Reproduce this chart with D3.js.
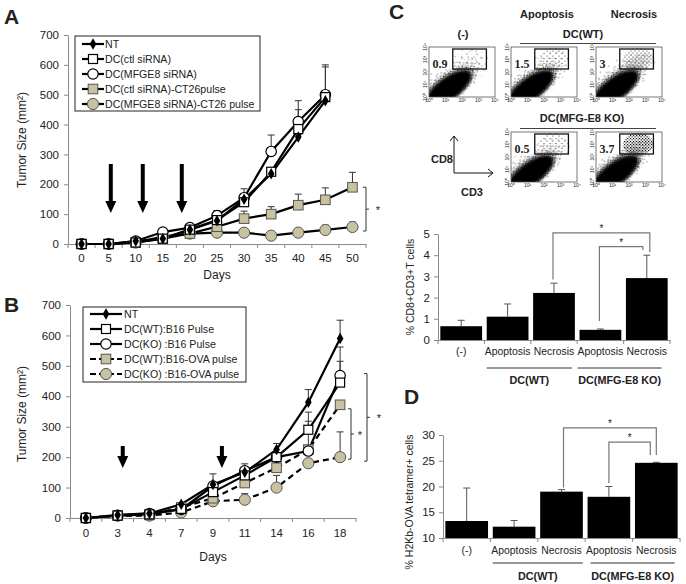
<!DOCTYPE html>
<html><head><meta charset="utf-8">
<script src="https://cdn.jsdelivr.net/npm/d3@7"></script>
<style>
body{margin:0;background:#fff}
svg{display:block}
text{font-family:"Liberation Sans",Arial,sans-serif;fill:#222}
</style>
</head><body>
<svg id="c" width="686" height="584"></svg>
<script>
// ---------------- DATA ----------------
const daysA = ["0","5","10","15","20","25","30","35","40","45","50"];
const A_NT      = [0,0,10,18,48,78,150,235,358,480,null];
const A_ctl     = [0,0,5,18,48,80,140,242,385,492,null];
const A_mfg     = [0,0,10,40,55,95,155,310,410,500,null];
const A_ctlP    = [0,0,5,18,35,58,85,100,130,148,190];
const A_mfgP    = [0,0,5,25,35,38,38,28,38,47,57];
const A_NT_err  = [null,null,null,null,null,null,null,null,null,null,null];
const A_ctl_err = [null,null,null,null,null,null,null,null,450,593,null];
const A_mfg_err = [null,null,null,null,null,112,185,365,480,600,null];
const A_ctlP_err= [null,null,null,null,null,null,110,125,167,188,240];
const A_mfgP_err= [null,null,null,null,null,null,null,null,null,63,73];
const namesA = ["NT","DC(ctl siRNA)","DC(MFGE8 siRNA)","DC(ctl siRNA)-CT26pulse","DC(MFGE8 siRNA)-CT26 pulse"];
const arrowsA = [5.4, 11.3, 18.5];

const daysB = ["0","3","4","7","9","11","14","16","18"];
const B_NT     = [0,10,15,45,110,150,225,380,590];
const B_WT     = [0,8,12,30,85,140,200,290,445];
const B_KO     = [0,8,15,28,105,155,200,220,468];
const B_WTova  = [0,8,10,35,65,115,165,225,372];
const B_KOova  = [0,8,8,18,55,60,100,180,200];
const B_NT_err    = [null,null,null,null,null,null,245,422,650];
const B_WT_err    = [null,null,null,null,null,null,null,348,515];
const B_KO_err    = [null,null,null,null,145,178,null,null,562];
const B_WTova_err = [null,null,null,null,null,null,null,318,null];
const B_KOova_err = [null,null,null,null,null,80,140,null,283];
const namesB = ["NT","DC(WT):B16 Pulse","DC(KO) :B16 Pulse","DC(WT):B16-OVA pulse","DC(KO) :B16-OVA pulse"];
const arrowsB = [1.16, 4.28]; // positions in category-index units

const yTicksLine = [0,100,200,300,400,500,600,700];

const barLabels = ["(-)","Apoptosis","Necrosis","Apoptosis","Necrosis"];
const groupLabels = ["DC(WT)","DC(MFG-E8 KO)"];
const C_vals = [0.65,1.1,2.22,0.48,2.92];
const C_errTop = [0.93,1.7,2.68,0.52,4.0];
const C_ticks = [0,1,2,3,4,5];
const D_vals = [13.3,12.2,19.0,18.0,24.6];
const D_errTop = [19.7,13.4,19.4,20.0,24.7];
const D_ticks = [10,15,20,25,30];

const flowNums = ["0.9","1.5","3","0.5","3.7"];
const flowTicks = ["10⁰","10¹","10²","10³","10⁴"];

// ---------------- SETUP ----------------
const svg = d3.select("#c");
const TAN = "#c9c2a0";
const AX = "#8a8a8a";
const defs = svg.append("defs");
defs.append("filter").attr("id","blur").attr("x","-30%").attr("y","-30%").attr("width","160%").attr("height","160%")
  .append("feGaussianBlur").attr("stdDeviation",1.6);
function pat(id,w,h,dots){
  const p = defs.append("pattern").attr("id",id).attr("patternUnits","userSpaceOnUse").attr("width",w).attr("height",h);
  dots.forEach(d=>p.append("circle").attr("cx",d[0]).attr("cy",d[1]).attr("r",d[2]).attr("fill","#111"));
}
pat("spD",3,3,[[0.6,0.6,0.7],[2.1,1.9,0.65]]);
pat("spM",4,4,[[1,1,0.55],[3,3,0.5]]);
pat("spS",6,5,[[1,1,0.5],[4,3.5,0.5]]);
pat("spX",10,8,[[2,2,0.5],[7,6,0.5]]);

function styleAxis(a){
  a.select(".domain").attr("stroke",AX);
  a.selectAll(".tick line").attr("stroke",AX);
  a.selectAll(".tick text").attr("fill","#222").style("font-family","Liberation Sans, Arial, sans-serif");
}

function marker(g, type, cx, cy){
  if(type==="diamond"){
    g.append("path").attr("d",d3.symbol(d3.symbolDiamond,38)()).attr("transform",`translate(${cx},${cy})`).attr("fill","#000");
  } else if(type==="osq"){
    g.append("rect").attr("x",cx-4.5).attr("y",cy-4.5).attr("width",9).attr("height",9).attr("fill","#fff").attr("stroke","#000").attr("stroke-width",1.2);
  } else if(type==="ocirc"){
    g.append("circle").attr("cx",cx).attr("cy",cy).attr("r",5.2).attr("fill","#fff").attr("stroke","#000").attr("stroke-width",1.2);
  } else if(type==="tsq"){
    g.append("rect").attr("x",cx-4.8).attr("y",cy-4.8).attr("width",9.6).attr("height",9.6).attr("fill",TAN).attr("stroke","#555").attr("stroke-width",1);
  } else if(type==="tcirc"){
    g.append("circle").attr("cx",cx).attr("cy",cy).attr("r",5.6).attr("fill",TAN).attr("stroke","#555").attr("stroke-width",1);
  }
}

function arrowDown(g, x, yTop, yTip){
  const headH = 12, headW = 5.5;
  g.append("line").attr("x1",x).attr("x2",x).attr("y1",yTop).attr("y2",yTip-headH+1).attr("stroke","#000").attr("stroke-width",4);
  g.append("path").attr("d",`M${x-headW},${yTip-headH} L${x+headW},${yTip-headH} L${x},${yTip} Z`).attr("fill","#000");
}

function sigBracketSide(g, x, yTop, yBot, starX){
  const p = d3.path();
  p.moveTo(x-3, yTop); p.lineTo(x, yTop); p.lineTo(x, yBot); p.lineTo(x-3, yBot);
  p.moveTo(x, (yTop+yBot)/2); p.lineTo(x+3, (yTop+yBot)/2);
  g.append("path").attr("d",p.toString()).attr("fill","none").attr("stroke","#333").attr("stroke-width",1);
  g.append("text").attr("x",starX).attr("y",(yTop+yBot)/2+5).attr("font-size",11).attr("text-anchor","middle").text("*");
}

// ---------------- LINE CHART ----------------
function lineChart(cfg){
  const g = svg.append("g");
  const x = d3.scaleBand().domain(cfg.cats).range([cfg.x0,cfg.x1]).padding(0);
  const y = d3.scaleLinear().domain([0,700]).range([cfg.yBot,cfg.yTop]);
  const cx = c => x(c)+x.bandwidth()/2;
  const ya = g.append("g").attr("transform",`translate(${cfg.x0},0)`)
    .call(d3.axisLeft(y).tickValues(yTicksLine).tickFormat(d3.format("d")).tickSize(4).tickSizeOuter(0).tickPadding(5));
  styleAxis(ya); ya.selectAll(".tick text").attr("font-size",11.5);
  const xa = g.append("g").attr("transform",`translate(0,${cfg.yBot})`)
    .call(d3.axisBottom(x).tickSize(0).tickSizeOuter(0).tickPadding(cfg.xPad));
  styleAxis(xa); xa.selectAll(".tick text").attr("font-size",11.5);
  const bnd = cfg.cats.map(c=>x(c)).concat([cfg.x1]);
  g.append("g").selectAll("line").data(bnd).join("line")
    .attr("x1",d=>d).attr("x2",d=>d).attr("y1",cfg.yBot).attr("y2",cfg.yBot+4).attr("stroke",AX);
  g.append("text").attr("x",(cfg.x0+cfg.x1)/2).attr("y",cfg.daysY).attr("text-anchor","middle").attr("font-size",12).text("Days");
  g.append("text").attr("transform",`translate(${cfg.ylabX},${cfg.ylabY}) rotate(-90)`).attr("text-anchor","middle").attr("font-size",12)
    .text("Tumor Size (mm²)");
  cfg.series.forEach(s=>{
    s.err.forEach((e,i)=>{
      if(e==null||s.vals[i]==null) return;
      const xx = cx(cfg.cats[i]);
      g.append("line").attr("x1",xx).attr("x2",xx).attr("y1",y(s.vals[i])).attr("y2",y(e)).attr("stroke","#333").attr("stroke-width",1);
      g.append("line").attr("x1",xx-3.5).attr("x2",xx+3.5).attr("y1",y(e)).attr("y2",y(e)).attr("stroke","#333").attr("stroke-width",1);
    });
  });
  const line = d3.line().defined(d=>d.v!=null).x(d=>cx(d.c)).y(d=>y(d.v));
  cfg.series.slice().reverse().forEach(s=>{
    const pts = s.vals.map((v,i)=>({c:cfg.cats[i],v}));
    g.append("path").attr("d",line(pts)).attr("fill","none").attr("stroke","#000").attr("stroke-width",2.2)
      .attr("stroke-dasharray",s.dash?"6,4":null);
  });
  cfg.series.slice().reverse().forEach(s=>{
    s.vals.forEach((v,i)=>{ if(v!=null) marker(g,s.marker,cx(cfg.cats[i]),y(v)); });
  });
  const L = cfg.legend;
  g.append("rect").attr("x",L.x).attr("y",L.y).attr("width",L.w).attr("height",L.h).attr("fill","#fff").attr("stroke","#222").attr("stroke-width",1);
  cfg.series.forEach((s,i)=>{
    const ry = L.rows[i];
    g.append("line").attr("x1",L.lx0).attr("x2",L.lx1).attr("y1",ry).attr("y2",ry).attr("stroke","#000").attr("stroke-width",2.2)
      .attr("stroke-dasharray",s.dash?"6,3":null);
    marker(g,s.marker,(L.lx0+L.lx1)/2,ry);
    g.append("text").attr("x",L.tx).attr("y",ry+4).attr("font-size",L.fs).text(s.name);
  });
  return {g,x,y,cx};
}

// ---------- Panel A ----------
const mk = ["diamond","osq","ocirc","tsq","tcirc"];
const A = lineChart({
  cats:daysA, x0:68, x1:366, yTop:35, yBot:244, xPad:10, daysY:279, ylabX:26, ylabY:140,
  series:[
    {name:namesA[0],vals:A_NT,err:A_NT_err,marker:mk[0]},
    {name:namesA[1],vals:A_ctl,err:A_ctl_err,marker:mk[1]},
    {name:namesA[2],vals:A_mfg,err:A_mfg_err,marker:mk[2]},
    {name:namesA[3],vals:A_ctlP,err:A_ctlP_err,marker:mk[3]},
    {name:namesA[4],vals:A_mfgP,err:A_mfgP_err,marker:mk[4]}
  ],
  legend:{x:75,y:36,w:185,h:75,rows:[44,59,74,89,104],lx0:82,lx1:104,tx:105,fs:10.6}
});
{
  const lin = d3.scaleLinear().domain([0,5]).range([A.cx("0"),A.cx("5")]);
  arrowsA.forEach(d=>arrowDown(A.g, lin(d), 164, 213));
  sigBracketSide(A.g, 366, A.y(A_ctlP[10]), A.y(A_mfgP[10])+4, 378);
}

// ---------- Panel B ----------
const B = lineChart({
  cats:daysB, x0:70, x1:356, yTop:305, yBot:518, xPad:11, daysY:561, ylabX:26, ylabY:414,
  series:[
    {name:namesB[0],vals:B_NT,err:B_NT_err,marker:mk[0]},
    {name:namesB[1],vals:B_WT,err:B_WT_err,marker:mk[1]},
    {name:namesB[2],vals:B_KO,err:B_KO_err,marker:mk[2]},
    {name:namesB[3],vals:B_WTova,err:B_WTova_err,marker:mk[3],dash:true},
    {name:namesB[4],vals:B_KOova,err:B_KOova_err,marker:mk[4],dash:true}
  ],
  legend:{x:83,y:307,w:163,h:75,rows:[314,329,344,359,374],lx0:90,lx1:122,tx:124,fs:10.6}
});
{
  const idx = d3.scaleLinear().domain([0,1]).range([B.cx(daysB[0]),B.cx(daysB[1])]);
  arrowsB.forEach(d=>arrowDown(B.g, idx(d), 446, 468));
  sigBracketSide(B.g, 351, B.y(B_WTova[8])+4, B.y(B_KOova[8])+2, 360);
  sigBracketSide(B.g, 367, B.y(B_KO[8])-2, B.y(B_KOova[8])+4, 379);
}

// panel letters
[["A",4,24],["B",4,312],["C",389,19],["D",404,404]].forEach(d=>{
  svg.append("text").attr("x",d[1]).attr("y",d[2]).attr("font-size",21).attr("font-weight","bold").attr("fill","#000").text(d[0]);
});

// ---------------- FLOW PLOTS ----------------
function flowPlot(px,py,w,h,num,gateLevel,necro){
  const g = svg.append("g");
  const id = "cl"+Math.round(px)+"_"+Math.round(py);
  defs.append("clipPath").attr("id",id).append("rect").attr("x",px).attr("y",py).attr("width",w).attr("height",h);
  const cg = g.append("g").attr("clip-path",`url(#${id})`);
  const ccx = px+0.3*w, ccy = py+0.8*h;
  const rot = `rotate(-36 ${ccx} ${ccy})`;
  cg.append("ellipse").attr("cx",ccx+6).attr("cy",ccy-4).attr("rx",0.66*w).attr("ry",0.38*h).attr("transform",rot).attr("fill","url(#spX)");
  cg.append("ellipse").attr("cx",ccx+3).attr("cy",ccy-2).attr("rx",0.56*w).attr("ry",0.32*h).attr("transform",rot).attr("fill","url(#spS)");
  cg.append("ellipse").attr("cx",ccx+1).attr("cy",ccy-1).attr("rx",0.5*w).attr("ry",0.28*h).attr("transform",rot).attr("fill","url(#spM)");
  cg.append("ellipse").attr("cx",ccx).attr("cy",ccy).attr("rx",0.46*w).attr("ry",0.25*h).attr("transform",rot).attr("fill","url(#spD)");
  cg.append("ellipse").attr("cx",ccx-1).attr("cy",ccy+1).attr("rx",0.41*w).attr("ry",0.22*h).attr("transform",rot).attr("fill","#000").attr("filter","url(#blur)");
  if(necro){
    const nx = px+0.55*w, ny = py+0.4*h;
    cg.append("ellipse").attr("cx",nx).attr("cy",ny).attr("rx",0.32*w).attr("ry",0.16*h).attr("transform",`rotate(-35 ${nx} ${ny})`).attr("fill","url(#spM)");
  }
  const gx = px+0.36*w, gy = py+0.04*h, gw = 0.51*w, gh = 0.4*h;
  const gp = ["spX","spS","spM","spD"][gateLevel];
  cg.append("ellipse").attr("cx",gx+gw*0.55).attr("cy",gy+gh*0.5).attr("rx",gw*0.45).attr("ry",gh*0.55).attr("fill",`url(#${gp})`);
  g.append("rect").attr("x",px).attr("y",py).attr("width",w).attr("height",h).attr("fill","none").attr("stroke","#555").attr("stroke-width",0.8);
  g.append("rect").attr("x",gx).attr("y",gy).attr("width",gw).attr("height",gh).attr("fill","none").attr("stroke","#111").attr("stroke-width",1.3);
  g.append("rect").attr("x",px+2).attr("y",py+0.33*h-6).attr("width",num.length*6+3).attr("height",12).attr("fill","#fff");
  g.append("text").attr("x",px+3.5).attr("y",py+0.33*h+4).attr("font-size",12).attr("font-weight","bold")
    .style("font-family","Liberation Serif, Times New Roman, serif").attr("fill","#111").text(num);
  flowTicks.forEach((t,i)=>{
    g.append("text").attr("x",px+i*w/4).attr("y",py+h+5).attr("font-size",5).attr("text-anchor","middle").attr("fill","#444").text(t);
    g.append("text").attr("transform",`translate(${px-2},${py+h-i*h/4}) rotate(-90)`).attr("font-size",5).attr("text-anchor","middle").attr("fill","#444").text(t);
  });
}
const FW=66, FH=50;
flowPlot(429,47,FW,FH,flowNums[0],0,false);
flowPlot(511,47,FW,FH,flowNums[1],1,false);
flowPlot(596,47,FW,FH,flowNums[2],2,true);
flowPlot(511,132,FW,FH,flowNums[3],1,false);
flowPlot(596,132,FW,FH,flowNums[4],3,true);

// headers C
const hdr = (t,x,y)=>svg.append("text").attr("x",x).attr("y",y).attr("text-anchor","middle").attr("font-size",11).attr("font-weight","bold").attr("fill","#111").text(t);
hdr("Apoptosis",547,18); hdr("Necrosis",634,18); hdr("(-)",463,38); hdr("DC(WT)",583,38);
svg.append("line").attr("x1",520).attr("x2",656).attr("y1",43.5).attr("y2",43.5).attr("stroke","#444").attr("stroke-width",1);
hdr("DC(MFG-E8 KO)",582,122);
svg.append("line").attr("x1",520).attr("x2",656).attr("y1",128.5).attr("y2",128.5).attr("stroke","#444").attr("stroke-width",1);
{
  const p = d3.path();
  p.moveTo(454,136); p.lineTo(454,173); p.lineTo(493,173);
  svg.append("path").attr("d",p.toString()).attr("fill","none").attr("stroke","#111").attr("stroke-width",1);
  svg.append("path").attr("d","M450,141 L454,136 L458,141 M488,169 L493,173 L488,177").attr("fill","none").attr("stroke","#111").attr("stroke-width",1);
  hdr("CD8",442,163); hdr("CD3",472,196);
}

// ---------------- BAR CHARTS ----------------
function barChart(cfg){
  const g = svg.append("g");
  const x = d3.scaleBand().domain(d3.range(cfg.vals.length)).range([cfg.x0,cfg.x1]).paddingInner(0.1).paddingOuter(0.05);
  const y = d3.scaleLinear().domain(cfg.dom).range([cfg.yBot,cfg.yTop]);
  const ya = g.append("g").attr("transform",`translate(${cfg.x0},0)`)
    .call(d3.axisLeft(y).tickValues(cfg.ticks).tickFormat(d3.format("d")).tickSize(4).tickSizeOuter(0).tickPadding(4));
  styleAxis(ya); ya.selectAll(".tick text").attr("font-size",11.5);
  const xa = g.append("g").attr("transform",`translate(0,${cfg.yBot})`)
    .call(d3.axisBottom(x).tickSize(0).tickSizeOuter(0).tickPadding(cfg.xPad).tickFormat(i=>barLabels[i]));
  styleAxis(xa); xa.selectAll(".tick text").attr("font-size",10.4);
  const step = x.step();
  g.append("g").selectAll("line").data(d3.range(cfg.vals.length+1)).join("line")
    .attr("x1",i=>cfg.x0+i*step).attr("x2",i=>cfg.x0+i*step).attr("y1",cfg.yBot).attr("y2",cfg.yBot+4).attr("stroke",AX);
  cfg.err.forEach((e,i)=>{
    const xx = x(i)+x.bandwidth()/2;
    g.append("line").attr("x1",xx).attr("x2",xx).attr("y1",y(cfg.vals[i])).attr("y2",y(e)).attr("stroke","#555").attr("stroke-width",1);
    g.append("line").attr("x1",xx-3.5).attr("x2",xx+3.5).attr("y1",y(e)).attr("y2",y(e)).attr("stroke","#555").attr("stroke-width",1);
  });
  g.append("g").selectAll("rect").data(cfg.vals).join("rect")
    .attr("x",(d,i)=>x(i)).attr("width",x.bandwidth()).attr("y",d=>y(d)).attr("height",d=>cfg.yBot-y(d)).attr("fill","#000");
  g.append("text").attr("transform",`translate(${cfg.ylabX},${cfg.ylabY}) rotate(-90)`).attr("text-anchor","middle").attr("font-size",10.5).attr("fill","#333").text(cfg.ylab);
  [[1,2],[3,4]].forEach((pr,k)=>{
    const a = x(pr[0])+cfg.gIn[k][0], b = x(pr[1])+x.bandwidth()-cfg.gIn[k][1];
    g.append("line").attr("x1",a).attr("x2",b).attr("y1",cfg.gLineY).attr("y2",cfg.gLineY).attr("stroke","#333").attr("stroke-width",1);
    g.append("text").attr("x",(a+b)/2).attr("y",cfg.gTextY).attr("text-anchor","middle").attr("font-size",10.8).attr("font-weight","bold").attr("fill","#111").text(groupLabels[k]);
  });
  cfg.sig.forEach(s=>{
    const xa_ = x(s.a)+x.bandwidth()/2+s.da, xb_ = x(s.b)+x.bandwidth()/2+s.db;
    const p = d3.path();
    p.moveTo(xa_, y(s.la)); p.lineTo(xa_, y(s.top)); p.lineTo(xb_, y(s.top)); p.lineTo(xb_, y(s.lb));
    g.append("path").attr("d",p.toString()).attr("fill","none").attr("stroke","#777").attr("stroke-width",1.2);
    g.append("text").attr("x",(xa_+xb_)/2).attr("y",y(s.top)-1).attr("text-anchor","middle").attr("font-size",10).attr("fill","#333").text("*");
  });
  return {x,y};
}

barChart({
  vals:C_vals, err:C_errTop, dom:[0,5], ticks:C_ticks, x0:438, x1:670, yTop:234, yBot:340, xPad:8,
  ylab:"% CD8+CD3+T cells", ylabX:414, ylabY:287, gLineY:368, gTextY:384, gIn:[[0,3],[-2,6]],
  sig:[{a:2,b:4,da:-1,db:3,top:5.05,la:2.85,lb:4.15},{a:3,b:4,da:-1,db:-4,top:4.4,la:0.9,lb:4.25}]
});
barChart({
  vals:D_vals, err:D_errTop, dom:[10,30], ticks:D_ticks, x0:443, x1:680, yTop:435, yBot:538, xPad:9,
  ylab:"% H2Kb-OVA tetramer+ cells", ylabX:413, ylabY:502, gLineY:563, gTextY:580, gIn:[[0,0],[3,3]],
  sig:[{a:2,b:4,da:2,db:0,top:31.4,la:19.8,lb:26.1},{a:3,b:4,da:0,db:-6,top:28.6,la:20.7,lb:26.1}]
});
</script>
</body></html>
